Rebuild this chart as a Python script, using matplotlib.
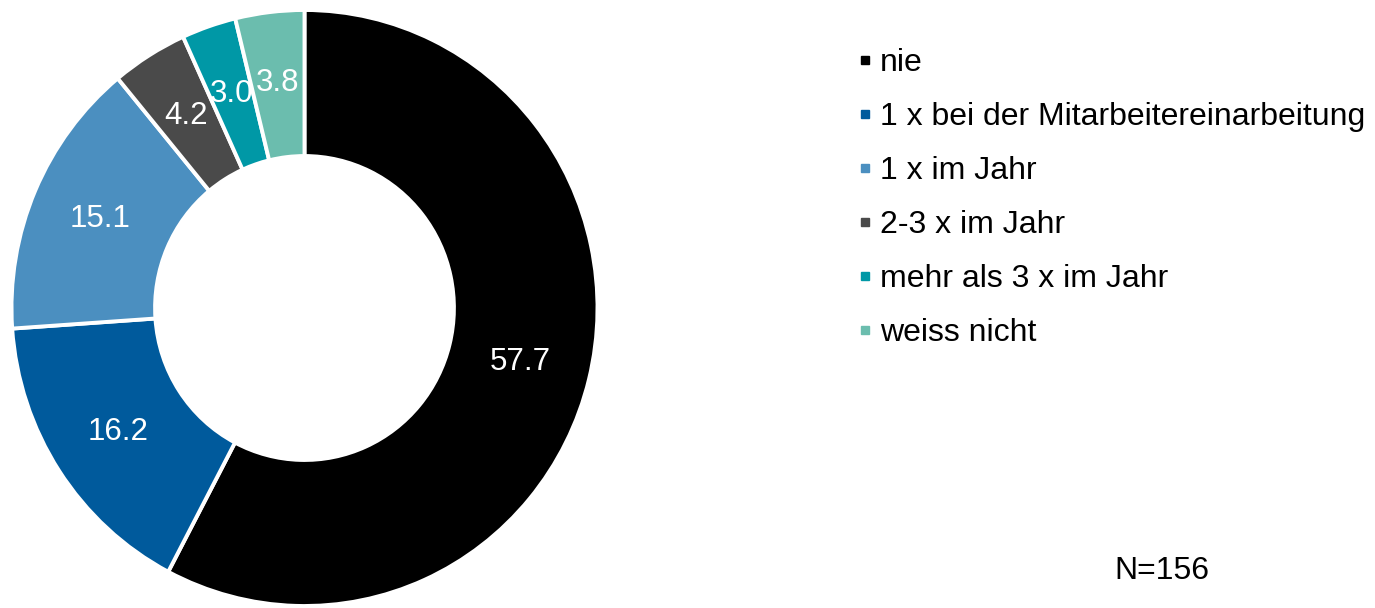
import matplotlib
matplotlib.use("Agg")
import matplotlib.pyplot as plt
from matplotlib.lines import Line2D

categories = ["nie", "1 x bei der Mitarbeitereinarbeitung", "1 x im Jahr",
              "2-3 x im Jahr", "mehr als 3 x im Jahr", "weiss nicht"]
values = [57.7, 16.2, 15.1, 4.2, 3.0, 3.8]
colors = ["#000000", "#005A9C", "#4B8FC0", "#4A4A4A", "#0098A6", "#6BBDAE"]
note = "N=156"

plt.rcParams['font.family'] = ['Liberation Sans', 'DejaVu Sans']

fig = plt.figure(figsize=(13.75, 6.08), dpi=100)
ax = fig.add_axes([11.5/1375, 2/608, 586/1375, 596/608])
wedges, texts = ax.pie(values, colors=colors, startangle=90, counterclock=False,
                       radius=1.0, labels=[f"{v:.1f}" for v in values],
                       labeldistance=0.76,
                       wedgeprops=dict(width=0.49, edgecolor="white", linewidth=2.8),
                       textprops=dict(color="white", fontsize=22.5, ha="center", va="center"))
ax.set_xlim(-1, 1)
ax.set_ylim(-1, 1)
ax.set_aspect("auto")
ax.axis("off")

handles = [Line2D([0], [0], marker="s", linestyle="none", markersize=6,
                  markerfacecolor=c, markeredgecolor=c) for c in colors]
fig.legend(handles, categories, loc="upper left", bbox_to_anchor=(859/1375, 1 - 48/608),
           frameon=False, fontsize=23, handlelength=0.4, handletextpad=0.25,
           labelspacing=0.75, borderaxespad=0, borderpad=0)

fig.text(1162/1375, 1 - 571/608, note, fontsize=23, ha="center", va="center")

fig.savefig("out.png", dpi=100)
